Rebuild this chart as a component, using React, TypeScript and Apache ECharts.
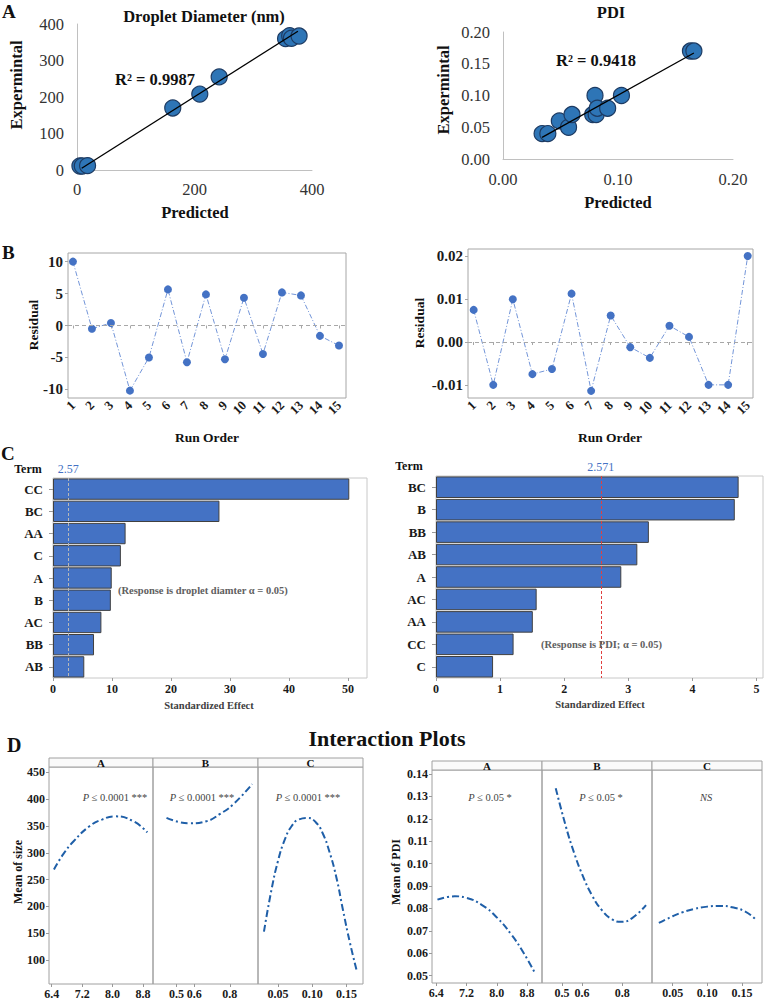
import React, { useEffect, useRef } from "react";
import * as echarts from "echarts";

const FONT = "'Liberation Serif', 'Times New Roman', Times, serif";

// ---------- Panel A data ----------
const diaPredicted = [5, 9, 18, 163, 209, 242, 355, 362, 365, 378];
const diaExperimental = [11, 11, 12, 170, 208, 255, 360, 368, 361, 367];
const diaTrendX = [8, 376];
const diaTrendY = [5, 380];
const pdiPredicted = [0.034, 0.039, 0.049, 0.057, 0.06, 0.078, 0.08, 0.081, 0.082, 0.091, 0.103, 0.163, 0.166];
const pdiExperimental = [0.04, 0.04, 0.06, 0.05, 0.07, 0.07, 0.1, 0.07, 0.08, 0.08, 0.1, 0.17, 0.17];
const pdiTrendX = [0.034, 0.166];
const pdiTrendY = [0.034, 0.167];

// ---------- Panel B data ----------
const runOrder = [1, 2, 3, 4, 5, 6, 7, 8, 9, 10, 11, 12, 13, 14, 15];
const sizeResidual = [10.0, -0.5, 0.4, -10.2, -5.0, 5.65, -5.76, 4.87, -5.29, 4.35, -4.45, 5.18, 4.71, -1.62, -3.14];
const pdiResidual = [0.0075, -0.01, 0.01, -0.0075, -0.0063, 0.0113, -0.0114, 0.0062, -0.0012, -0.0037, 0.0038, 0.0012, -0.01, -0.01, 0.0201];
const sizeResTicks = [-10, -5, 0, 5, 10];
const pdiResTicks = [-0.01, 0, 0.01, 0.02];

// ---------- Panel C data ----------
const sizeTerms = ["CC", "BC", "AA", "C", "A", "B", "AC", "BB", "AB"];
const sizeEffects = [50.2, 28.2, 12.3, 11.5, 9.95, 9.8, 8.2, 6.95, 5.3];
const sizeCritical = 2.57;
const sizeEffectTicks = [0, 10, 20, 30, 40, 50];
const pdiTerms = ["BC", "B", "BB", "AB", "A", "AC", "AA", "CC", "C"];
const pdiEffects = [4.72, 4.66, 3.32, 3.14, 2.89, 1.57, 1.51, 1.21, 0.89];
const pdiCritical = 2.571;
const pdiEffectTicks = [0, 1, 2, 3, 4, 5];

// ---------- Panel D data ----------
const sizeA_x = [6.46, 6.7, 6.97, 7.4, 7.72, 8.06, 8.54, 8.91];
const sizeA_y = [269, 297, 321, 350, 362, 368, 359, 338];
const sizeB_x = [0.444, 0.519, 0.573, 0.669, 0.743, 0.818, 0.926];
const sizeB_y = [365, 357, 355, 359, 372, 390, 428];
const sizeC_x = [0.0295, 0.04, 0.05, 0.06, 0.07, 0.08, 0.094, 0.105, 0.115, 0.125, 0.135, 0.145, 0.155, 0.1655];
const sizeC_y = [153, 228, 285, 325, 350, 362, 365, 357, 337, 302, 255, 192, 132, 77];
const pdiA_x = [6.43, 6.89, 7.2, 7.6, 8.0, 8.4, 8.7, 9.0];
const pdiA_y = [0.0839, 0.0854, 0.0847, 0.0816, 0.076, 0.068, 0.0604, 0.0515];
const pdiB_x = [0.4685, 0.52, 0.56, 0.6, 0.65, 0.7, 0.75, 0.795, 0.85, 0.919];
const pdiB_y = [0.1337, 0.1163, 0.1049, 0.0953, 0.0858, 0.0791, 0.0751, 0.074, 0.0757, 0.0815];
const pdiC_x = [0.03, 0.05, 0.0643, 0.08, 0.1, 0.119, 0.1357, 0.1548, 0.169];
const pdiC_y = [0.0735, 0.0765, 0.0783, 0.0797, 0.0808, 0.0811, 0.0805, 0.0786, 0.0753];
const sizeYTicks = [100, 150, 200, 250, 300, 350, 400, 450];
const pdiYTicks = [0.05, 0.06, 0.07, 0.08, 0.09, 0.1, 0.11, 0.12, 0.13, 0.14];
const aTicks = [6.4, 7.2, 8.0, 8.8];
const bTicks = [0.5, 0.6, 0.8];
const cTicks = [0.05, 0.1, 0.15];
const sizePText = ["{i|P} ≤ 0.0001 ***", "{i|P} ≤ 0.0001 ***", "{i|P} ≤ 0.0001 ***"];
const pdiPText = ["{i|P} ≤ 0.05 *", "{i|P} ≤ 0.05 *", "{i|NS}"];
const factorNames = ["A", "B", "C"];

function buildOption() {
  const grid: any[] = [];
  const xAxis: any[] = [];
  const yAxis: any[] = [];
  const series: any[] = [];
  const graphic: any[] = [];

  const addGrid = (g: any, xa: any, ya: any) => {
    const idx = grid.length;
    grid.push(g);
    xAxis.push({ ...xa, gridIndex: idx });
    yAxis.push({ ...ya, gridIndex: idx });
    return idx;
  };
  const txt = (text: string, x: number, y: number, size: number, o: any = {}) => {
    const el: any = {
      type: "text",
      x,
      y,
      rotation: o.rot || 0,
      z: 100,
      style: {
        text,
        font: `${o.italic ? "italic " : ""}${o.weight || "bold"} ${size}px ${FONT}`,
        fill: o.color || "#111",
        textAlign: o.align || "center",
        textVerticalAlign: "middle",
        align: o.align || "center",
        verticalAlign: "middle",
      },
    };
    if (o.rich) el.style.rich = o.rich;
    graphic.push(el);
  };
  const lbl = (size: number, extra: any = {}) => ({
    fontFamily: FONT,
    fontSize: size,
    color: "#222",
    ...extra,
  });

  // ---------------- A ----------------
  const aLine = { show: true, onZero: false, lineStyle: { color: "#c0c0c0", width: 1 } };
  let i = addGrid(
    { left: 77, top: 24, width: 235, height: 146 },
    { type: "value", min: 0, max: 400, interval: 200, axisLine: aLine, axisTick: { show: false }, splitLine: { show: false }, axisLabel: lbl(16.5, { margin: 11, color: "#333" }) },
    { type: "value", min: 0, max: 400, interval: 100, axisLine: aLine, axisTick: { show: false }, splitLine: { show: false }, axisLabel: lbl(16.5, { margin: 13, color: "#333" }) }
  );
  series.push({
    type: "scatter", xAxisIndex: i, yAxisIndex: i,
    data: diaPredicted.map((x, k) => [x, diaExperimental[k]]),
    symbolSize: 16,
    itemStyle: { color: "#2e75b6", borderColor: "#1d3b63", borderWidth: 1.2, opacity: 1 },
  });
  series.push({
    type: "line", xAxisIndex: i, yAxisIndex: i, z: 5,
    data: diaTrendX.map((x, k) => [x, diaTrendY[k]]),
    symbol: "none", lineStyle: { color: "#000", width: 1.3 },
  });
  i = addGrid(
    { left: 503, top: 32, width: 230, height: 127 },
    { type: "value", min: 0, max: 0.2, interval: 0.1, axisLine: aLine, axisTick: { show: false }, splitLine: { show: false }, axisLabel: lbl(16.5, { margin: 12, color: "#333", formatter: (v: number) => v.toFixed(2) }) },
    { type: "value", min: 0, max: 0.2, interval: 0.05, axisLine: aLine, axisTick: { show: false }, splitLine: { show: false }, axisLabel: lbl(16.5, { margin: 13, color: "#333", formatter: (v: number) => v.toFixed(2) }) }
  );
  series.push({
    type: "scatter", xAxisIndex: i, yAxisIndex: i,
    data: pdiPredicted.map((x, k) => [x, pdiExperimental[k]]),
    symbolSize: 16,
    itemStyle: { color: "#2e75b6", borderColor: "#1d3b63", borderWidth: 1.2, opacity: 1 },
  });
  series.push({
    type: "line", xAxisIndex: i, yAxisIndex: i, z: 5,
    data: pdiTrendX.map((x, k) => [x, pdiTrendY[k]]),
    symbol: "none", lineStyle: { color: "#000", width: 1.3 },
  });
  txt("A", 2, 11, 19, { align: "left" });
  txt("Droplet Diameter (nm)", 204, 16, 16.5);
  txt("R² = 0.9987", 115, 79, 16.5, { align: "left" });
  txt("Predicted", 195, 212, 16.5);
  txt("Expermintal", 16, 85, 16.5, { rot: Math.PI / 2 });
  txt("PDI", 611, 12, 16.5);
  txt("R² = 0.9418", 556, 60, 16.5, { align: "left" });
  txt("Predicted", 618, 202, 16.5);
  txt("Expermintal", 443, 90, 16.5, { rot: Math.PI / 2 });

  // ---------------- B ----------------
  const bPanel = (g: any, xmin: number, xmax: number, ymin: number, ymax: number, ticks: number[], fmt: (v: number) => string, data: number[]) => {
    const k = addGrid(
      { ...g, show: true, borderColor: "#a6a6a6", borderWidth: 1 },
      {
        type: "value", min: xmin, max: xmax,
        axisLine: { show: false },
        axisTick: { show: true, customValues: runOrder, length: 3, lineStyle: { color: "#a6a6a6" } },
        splitLine: { show: false },
        axisLabel: lbl(13, { customValues: runOrder, rotate: 45, fontWeight: "bold", margin: 5, color: "#1a1a1a", showMaxLabel: true, showMinLabel: true }),
      },
      {
        type: "value", min: ymin, max: ymax,
        axisLine: { show: false },
        axisTick: { show: true, customValues: ticks, length: 3, lineStyle: { color: "#a6a6a6" } },
        splitLine: { show: false },
        axisLabel: lbl(15, { customValues: ticks, fontWeight: "bold", margin: 5, color: "#1a1a1a", formatter: fmt }),
      }
    );
    series.push({
      type: "line", xAxisIndex: k, yAxisIndex: k,
      data: runOrder.map((r, j) => [r, data[j]]),
      symbol: "circle", symbolSize: 8,
      itemStyle: { color: "#4472c4" },
      lineStyle: { color: "#7395d8", width: 1, type: [5, 2, 1, 2] },
      markLine: {
        silent: true, symbol: "none", label: { show: false },
        lineStyle: { color: "#a8a8a8", type: [4, 3], width: 1 },
        data: [{ yAxis: 0 }],
      },
    });
  };
  bPanel({ left: 68, top: 253, width: 278, height: 145 }, 0.74, 15.37, -11.35, 11.35, sizeResTicks, (v: number) => String(Math.round(v)), sizeResidual);
  bPanel({ left: 468, top: 249, width: 285, height: 149 }, 0.71, 15.27, -0.01307, 0.02172, pdiResTicks, (v: number) => v.toFixed(2), pdiResidual);
  txt("B", 2, 252, 19, { align: "left" });
  txt("Residual", 33, 325, 13.5, { rot: Math.PI / 2 });
  txt("Run Order", 207, 437, 13.5);
  txt("Residual", 419, 323, 13.5, { rot: Math.PI / 2 });
  txt("Run Order", 610, 437, 13.5);

  // ---------------- C ----------------
  const cPanel = (g: any, xmax: number, ticks: number[], terms: string[], vals: number[], crit: number, critColor: string, critLabel: string) => {
    const k = addGrid(
      { ...g, show: true, borderColor: "#c8c8c8", borderWidth: 1 },
      {
        type: "value", min: 0, max: xmax,
        axisLine: { show: false },
        axisTick: { show: true, customValues: ticks, length: 3, lineStyle: { color: "#999" } },
        splitLine: { show: false },
        axisLabel: lbl(12, { customValues: ticks, fontWeight: "bold", margin: 5, color: "#1a1a1a" }),
      },
      {
        type: "category", data: terms, inverse: true,
        axisLine: { show: false },
        axisTick: { show: true, alignWithLabel: true, length: 4, lineStyle: { color: "#999" } },
        axisLabel: lbl(13, { fontWeight: "bold", margin: 10, color: "#1a1a1a" }),
      }
    );
    series.push({
      type: "bar", xAxisIndex: k, yAxisIndex: k,
      data: vals,
      barCategoryGap: "4%",
      itemStyle: { color: "#4472c4", borderColor: "#404040", borderWidth: 1 },
      markLine: {
        silent: true, symbol: "none",
        lineStyle: { color: critColor, type: [3, 2], width: 1 },
        label: { show: true, position: "start", formatter: critLabel, color: "#4472c4", fontFamily: FONT, fontSize: 12, distance: 3 },
        data: [{ xAxis: crit }],
      },
    });
  };
  cPanel({ left: 53, top: 478, width: 314, height: 200 }, 53.2, sizeEffectTicks, sizeTerms, sizeEffects, sizeCritical, "#b8b8b8", "2.57");
  cPanel({ left: 436, top: 476, width: 327, height: 202 }, 5.1, pdiEffectTicks, pdiTerms, pdiEffects, pdiCritical, "#e04040", "2.571");
  txt("C", 1, 453, 19, { align: "left" });
  txt("Term", 28, 469, 12);
  txt("Term", 409, 466, 12);
  txt("(Response is droplet diamter α = 0.05)", 118, 590, 10.5, { align: "left", color: "#606060" });
  txt("(Response is PDI; α = 0.05)", 541, 644, 10.5, { align: "left", color: "#606060" });
  txt("Standardized Effect", 209, 705, 10.5, { color: "#404040" });
  txt("Standardized Effect", 600, 704, 10.5, { color: "#404040" });

  // ---------------- D ----------------
  const dPanel = (
    left: number, top: number, w: number, h: number, stripTop: number,
    xmin: number, xmax: number, xt: number[], xfmt: (v: number) => string,
    ymin: number, ymax: number, yt: number[], yfmt: (v: number) => string, showY: boolean,
    cx: number[], cy: number[], strip: string
  ) => {
    const k = addGrid(
      { left, top, width: w, height: h, show: true, borderColor: "#a0a0a0", borderWidth: 1 },
      {
        type: "value", min: xmin, max: xmax,
        axisLine: { show: false },
        axisTick: { show: true, customValues: xt, length: 3, lineStyle: { color: "#999" } },
        splitLine: { show: false },
        axisLabel: lbl(12, { customValues: xt, fontWeight: "bold", margin: 4, color: "#1a1a1a", formatter: xfmt }),
      },
      {
        type: "value", min: ymin, max: ymax,
        axisLine: { show: false },
        axisTick: { show: showY, customValues: yt, length: 3, lineStyle: { color: "#999" } },
        splitLine: { show: false },
        axisLabel: lbl(12, { show: showY, customValues: yt, fontWeight: "bold", margin: 4, color: "#1a1a1a", formatter: yfmt }),
      }
    );
    series.push({
      type: "line", xAxisIndex: k, yAxisIndex: k,
      data: cx.map((x, j) => [x, cy[j]]),
      smooth: true, symbol: "none",
      lineStyle: { color: "#1f5fa8", width: 2, type: [7, 3, 2, 3] },
    });
    graphic.push({
      type: "rect", z: 50,
      shape: { x: left, y: stripTop, width: w, height: top - stripTop },
      style: { fill: "#fafafa", stroke: "#a0a0a0", lineWidth: 1 },
    });
    txt(strip, left + w / 2, (stripTop + top) / 2 + 0.5, 11);
  };
  const f1 = (v: number) => v.toFixed(1);
  const f2 = (v: number) => v.toFixed(2);
  const f0 = (v: number) => String(v);
  // left (size)
  dPanel(49, 767, 104, 218, 758, 6.33, 9.06, aTicks, f1, 55.4, 460, sizeYTicks, f0, true, sizeA_x, sizeA_y, factorNames[0]);
  dPanel(153, 767, 105, 218, 758, 0.368, 0.959, bTicks, f1, 55.4, 460, sizeYTicks, f0, false, sizeB_x, sizeB_y, factorNames[1]);
  dPanel(258, 767, 105, 218, 758, 0.0208, 0.174, cTicks, f2, 55.4, 460, sizeYTicks, f0, false, sizeC_x, sizeC_y, factorNames[2]);
  // right (PDI)
  dPanel(432, 770, 110, 213, 761, 6.286, 9.197, aTicks, f1, 0.0467, 0.1418, pdiYTicks, f2, true, pdiA_x, pdiA_y, factorNames[0]);
  dPanel(542, 770, 110, 213, 761, 0.4, 0.949, bTicks, f1, 0.0467, 0.1418, pdiYTicks, f2, false, pdiB_x, pdiB_y, factorNames[1]);
  dPanel(652, 770, 110, 213, 761, 0.0201, 0.1789, cTicks, f2, 0.0467, 0.1418, pdiYTicks, f2, false, pdiC_x, pdiC_y, factorNames[2]);

  const rich = { i: { fontStyle: "italic", fontFamily: FONT, fontSize: 10.5, fill: "#444", color: "#444" } };
  const sizePX = [115, 202, 308];
  const pdiPX = [490, 601, 706];
  sizePText.forEach((t, k) => txt(t, sizePX[k], 797, 10.5, { weight: "normal", color: "#444", rich }));
  pdiPText.forEach((t, k) => txt(t, pdiPX[k], 797, 10.5, { weight: "normal", color: "#444", rich }));

  txt("D", 7, 745, 20, { align: "left" });
  txt("Interaction Plots", 387, 738, 22);
  txt("Mean of size", 18, 872, 12, { rot: Math.PI / 2 });
  txt("Mean of PDI", 396, 872, 12, { rot: Math.PI / 2 });

  return {
    animation: false,
    backgroundColor: "#ffffff",
    textStyle: { fontFamily: FONT },
    grid,
    xAxis,
    yAxis,
    series,
    graphic,
  };
}

export default function App() {
  const ref = useRef<HTMLDivElement>(null);
  useEffect(() => {
    if (!ref.current) return;
    const chart = echarts.init(ref.current, null, { renderer: "svg" });
    chart.setOption(buildOption() as any);
    return () => chart.dispose();
  }, []);
  return (
    <div
      ref={ref}
      style={{ position: "absolute", left: 0, top: 0, width: 766, height: 1000, background: "#fff" }}
    />
  );
}
